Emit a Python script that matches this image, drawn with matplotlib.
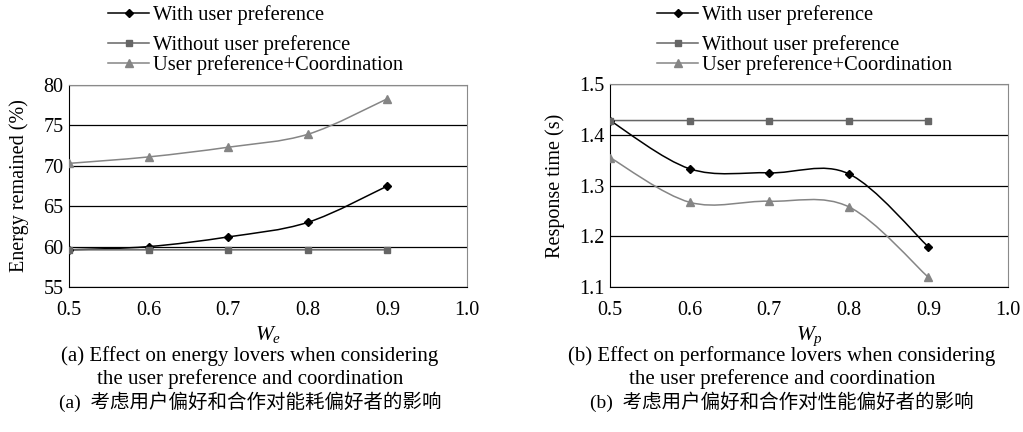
import matplotlib
matplotlib.use("Agg")
import matplotlib.pyplot as plt
from matplotlib.path import Path
from matplotlib.patches import PathPatch
from matplotlib.lines import Line2D

plt.rcParams['font.family'] = ['Liberation Serif', 'Noto Sans CJK SC']
plt.rcParams['mathtext.fontset'] = 'custom'
plt.rcParams['mathtext.rm'] = 'Liberation Serif'
plt.rcParams['mathtext.it'] = 'Liberation Serif:italic'

# datos
w = [0.5, 0.6, 0.7, 0.8, 0.9]
energia_con = [59.6, 60.0, 61.2, 63.0, 67.5]
energia_sin = [59.6, 59.6, 59.6, 59.6, 59.6]
energia_coord = [70.3, 71.1, 72.3, 73.9, 78.3]
resp_con = [1.428, 1.333, 1.325, 1.323, 1.179]
resp_sin = [1.428, 1.428, 1.428, 1.428, 1.428]
resp_coord = [1.355, 1.267, 1.269, 1.258, 1.119]

etiquetas = ["With user preference", "Without user preference", "User preference+Coordination"]
x_ticks = [0.5, 0.6, 0.7, 0.8, 0.9, 1.0]

NEGRO = "black"
GRIS_SIN = "#666666"
GRIS_COORD = "#858585"


def curva_suave(ax, x, y, color):
    # curva tipo Excel (Bezier por segmentos) en coordenadas de datos
    n = len(x)
    verts = [(x[0], y[0])]
    codes = [Path.MOVETO]
    for i in range(n - 1):
        a = i - 1 if i > 0 else i
        d = i + 2 if i + 2 < n else i + 1
        c1 = (x[i] + (x[i + 1] - x[a]) / 6, y[i] + (y[i + 1] - y[a]) / 6)
        c2 = (x[i + 1] - (x[d] - x[i]) / 6, y[i + 1] - (y[d] - y[i]) / 6)
        verts += [c1, c2, (x[i + 1], y[i + 1])]
        codes += [Path.CURVE4] * 3
    ax.add_patch(PathPatch(Path(verts, codes), fill=False, edgecolor=color, lw=1.1, zorder=3))


def dibujar(ax, series, ylim, yticks, ylabel, xlabel, yfmt):
    for y, color, marker, ms in series:
        curva_suave(ax, w, y, color)
        ax.plot(w, y, linestyle='none', marker=marker, color=color, markersize=ms, zorder=4)
    ax.set_xlim(0.5, 1.0)
    ax.set_ylim(*ylim)
    ax.set_xticks(x_ticks)
    ax.set_xticklabels([f"{v:.1f}" for v in x_ticks])
    ax.set_yticks(yticks)
    ax.set_yticklabels([yfmt.format(v) for v in yticks])
    ax.yaxis.grid(True, color='black', lw=0.9)
    ax.set_axisbelow(True)
    ax.tick_params(length=0, labelsize=14.5, pad=4)
    ax.tick_params(axis='x', pad=10)
    for s in ['top', 'right']:
        ax.spines[s].set_color('#8a8a8a')
    for s in ['left', 'bottom']:
        ax.spines[s].set_color('black')
    ax.set_ylabel(ylabel, fontsize=14.5, labelpad=10)
    ax.set_xlabel(xlabel, fontsize=15.5, labelpad=3)


def leyenda(ax, x0):
    h = [Line2D([], [], color=NEGRO, marker='D', markersize=4.5, lw=1.1),
         Line2D([], [], color=GRIS_SIN, marker='s', markersize=5, lw=1.1),
         Line2D([], [], color=GRIS_COORD, marker='^', markersize=5.5, lw=1.1)]
    kw = dict(frameon=False, fontsize=14.8, handlelength=2.0, handletextpad=0.2,
              borderpad=0, borderaxespad=0, labelspacing=0.0, loc='upper left')
    l1 = ax.legend(h[:1], etiquetas[:1], bbox_to_anchor=(x0, 1 - 5 / 432), bbox_transform=fig.transFigure, **kw)
    ax.add_artist(l1)
    ax.legend(h[1:], etiquetas[1:], bbox_to_anchor=(x0, 1 - 35 / 432), bbox_transform=fig.transFigure, **kw)


fig = plt.figure(figsize=(10.23, 4.32), dpi=100)
ax1 = fig.add_axes([69 / 1023, 1 - 287 / 432, 398 / 1023, 202 / 432])
ax2 = fig.add_axes([610 / 1023, 1 - 287 / 432, 398 / 1023, 203 / 432])

dibujar(ax1, [(energia_con, NEGRO, 'D', 4.5), (energia_sin, GRIS_SIN, 's', 5),
              (energia_coord, GRIS_COORD, '^', 5.5)],
        (55, 80), [55, 60, 65, 70, 75, 80], "Energy remained (%)", "$W_e$", "{:.0f}")
dibujar(ax2, [(resp_con, NEGRO, 'D', 4.5), (resp_sin, GRIS_SIN, 's', 5),
              (resp_coord, GRIS_COORD, '^', 5.5)],
        (1.1, 1.5), [1.1, 1.2, 1.3, 1.4, 1.5], "Response time (s)", "$W_p$", "{:.1f}")

leyenda(ax1, 108 / 1023)
leyenda(ax2, 657 / 1023)

captions = [
    (250, ["(a) Effect on energy lovers when considering",
           "the user preference and coordination",
           "(a)  考虑用户偏好和合作对能耗偏好者的影响"]),
    (782, ["(b) Effect on performance lovers when considering",
           "the user preference and coordination",
           "(b)  考虑用户偏好和合作对性能偏好者的影响"]),
]
for xc, lineas in captions:
    for yc, txt, fs in zip([356, 379, 402], lineas, [15, 15, 14]):
        fig.text(xc / 1023, 1 - yc / 432, txt, ha='center', va='center', fontsize=fs)

fig.savefig("out.png", dpi=100)
